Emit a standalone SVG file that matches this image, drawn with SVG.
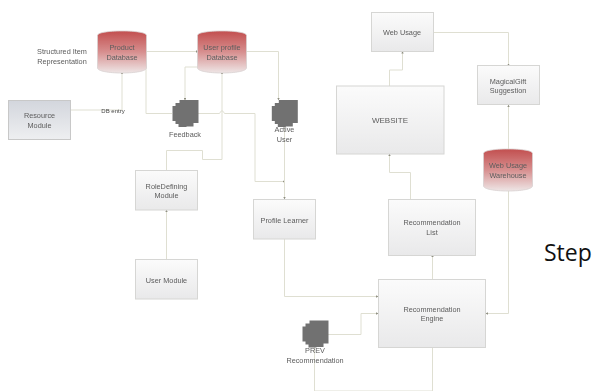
<svg xmlns="http://www.w3.org/2000/svg" width="594" height="391" viewBox="0 0 594 391">
<style>
text{font-family:"Liberation Sans",Arial,sans-serif;font-size:7.300px;fill:#5c5c5c;text-anchor:middle}
.box{stroke:#d6d6d4;stroke-width:1;fill:url(#bg)}
.res{stroke:#c8c8c8;stroke-width:1;fill:url(#rg)}
.db{fill:url(#dbg);stroke:#d8d0d0;stroke-width:.8}
.c{fill:none;stroke:#dfdfd2;stroke-width:1}
.doc{fill:#717171}
.dark{fill:#444}
</style>
<defs>
<linearGradient id="bg" x1="0" y1="0" x2="0" y2="1"><stop offset="0" stop-color="#fbfbfb"/><stop offset="1" stop-color="#e9e9ea"/></linearGradient>
<linearGradient id="rg" x1="0" y1="0" x2="0" y2="1"><stop offset="0" stop-color="#d3d6dd"/><stop offset="1" stop-color="#eeeff1"/></linearGradient>
<linearGradient id="dbg" x1="0" y1="0" x2="0" y2="1"><stop offset="0" stop-color="#c24f4f"/><stop offset=".5" stop-color="#d78f8f"/><stop offset="1" stop-color="#eee6e6"/></linearGradient>
<filter id="soft" x="-2%" y="-2%" width="104%" height="104%"><feGaussianBlur stdDeviation="0.35"/></filter>
<marker id="a" viewBox="0 0 3 3" markerWidth="2.400" markerHeight="2.400" refX="2.500" refY="1.500" orient="auto"><path d="M0 0L3 1.500L0 3Z" fill="#8f8f82"/></marker>
<path id="cyl" d="M0 4.500C0 1.500 11 0 24.500 0S49 1.500 49 4.500V37C49 40 38 42 24.500 42S0 40 0 37Z"/>
<path id="stack" d="M7 0H26V23H21V26.500H14V27H6V24H3V21H0V6H3V3H7Z"/>
</defs>
<rect width="594" height="391" fill="#fff"/>
<g filter="url(#soft)">
<g id="connectors">
<path class="c" marker-end="url(#a)" d="M146 51.500H198"/>
<path class="c" d="M146 51.500V113.500H172"/>
<path class="c" d="M70.500 110H122V72" marker-end="url(#a)"/>
<path class="c" marker-end="url(#a)" d="M198 67H185V100"/>
<path class="c" d="M198 113.500H219.500Q222 108 224.500 113.500H255V181.500H284.500" marker-end="url(#a)"/>
<path class="c" marker-end="url(#a)" d="M166.500 170V150.500H202.500V159.500H222V72"/>
<path class="c" marker-end="url(#a)" d="M246 51.500H278.500V100"/>
<path class="c" marker-end="url(#a)" d="M284.500 127V199"/>
<path class="c" marker-end="url(#a)" d="M166.500 259V210"/>
<path class="c" marker-end="url(#a)" d="M284.500 239V296.500H378"/>
<path class="c" marker-end="url(#a)" d="M328 334.500H361V313.500H378"/>
<path class="c" d="M314.500 347V391H432.500V348"/>
<path class="c" marker-end="url(#a)" d="M432.500 279V255"/>
<path class="c" marker-end="url(#a)" d="M410.500 199V172.500H389.500V154"/>
<path class="c" marker-end="url(#a)" d="M389.500 86V70H402.500V51.500"/>
<path class="c" marker-end="url(#a)" d="M433.500 32.500H508.500V65.500"/>
<path class="c" marker-end="url(#a)" d="M508.500 149V105"/>
<path class="c" marker-end="url(#a)" d="M508.500 191V313.500H486"/>
</g>
<g id="structured-label"><text x="62" y="54">Structured Item</text><text x="62" y="63.500">Representation</text></g>
<g id="db-entry-label"><text x="113" y="112.800" class="dark" style="font-size:6px">DB entry</text></g>
<g id="product-db"><use href="#cyl" class="db" transform="translate(97.500 31)"/><text x="122" y="50">Product</text><text x="122" y="59.500">Database</text></g>
<g id="user-db"><use href="#cyl" class="db" transform="translate(197.500 31)"/><text x="222" y="50">User profile</text><text x="222" y="59.500">Database</text></g>
<g id="resource"><rect class="res" x="8.500" y="100.500" width="62" height="39"/><text x="39.500" y="118">Resource</text><text x="39.500" y="127.500">Module</text></g>
<g id="feedback"><use href="#stack" class="doc" transform="translate(172.500 100)"/><text x="185" y="136.500">Feedback</text></g>
<g id="active-user"><use href="#stack" class="doc" transform="translate(271.800 100)"/><text x="284.500" y="132">Active</text><text x="284.500" y="141.500">User</text></g>
<g id="role"><rect class="box" x="135.500" y="170.500" width="62" height="39.500"/><text x="166.500" y="188.500">RoleDefining</text><text x="166.500" y="198">Module</text></g>
<g id="user-module"><rect class="box" x="135.500" y="259.500" width="62" height="39.500"/><text x="166.500" y="282.500">User Module</text></g>
<g id="profile-learner"><rect class="box" x="253.500" y="199.500" width="62" height="39.500"/><text x="284.500" y="222.500">Profile Learner</text></g>
<g id="web-usage"><rect class="box" x="371.500" y="12.500" width="62" height="39"/><text x="402" y="35">Web Usage</text></g>
<g id="website"><rect class="box" x="336.500" y="86" width="107.500" height="68"/><text x="390" y="122.500" style="font-size:8px">WEBSITE</text></g>
<g id="magical"><rect class="box" x="477.500" y="65.500" width="62" height="39"/><text x="508" y="83.500">MagicalGift</text><text x="508" y="93">Suggestion</text></g>
<g id="warehouse"><use href="#cyl" class="db" transform="translate(483.500 149)"/><text x="508" y="168">Web Usage</text><text x="508" y="177.500">Warehouse</text></g>
<g id="rec-list"><rect class="box" x="388.500" y="199.500" width="87" height="56"/><text x="432" y="225">Recommendation</text><text x="432" y="235">List</text></g>
<g id="rec-engine"><rect class="box" x="378.500" y="279.500" width="107" height="68"/><text x="432" y="311.500">Recommendation</text><text x="432" y="321">Engine</text></g>
<g id="prev"><use href="#stack" class="doc" transform="translate(302.500 320.500)"/><text x="315" y="353">PREV</text><text x="315" y="362.500">Recommendation</text></g>
</g>
<text x="544" y="260.500" style="font-family:'Open Sans',sans-serif;font-size:23px;fill:#111;text-anchor:start">Step</text>
</svg>
